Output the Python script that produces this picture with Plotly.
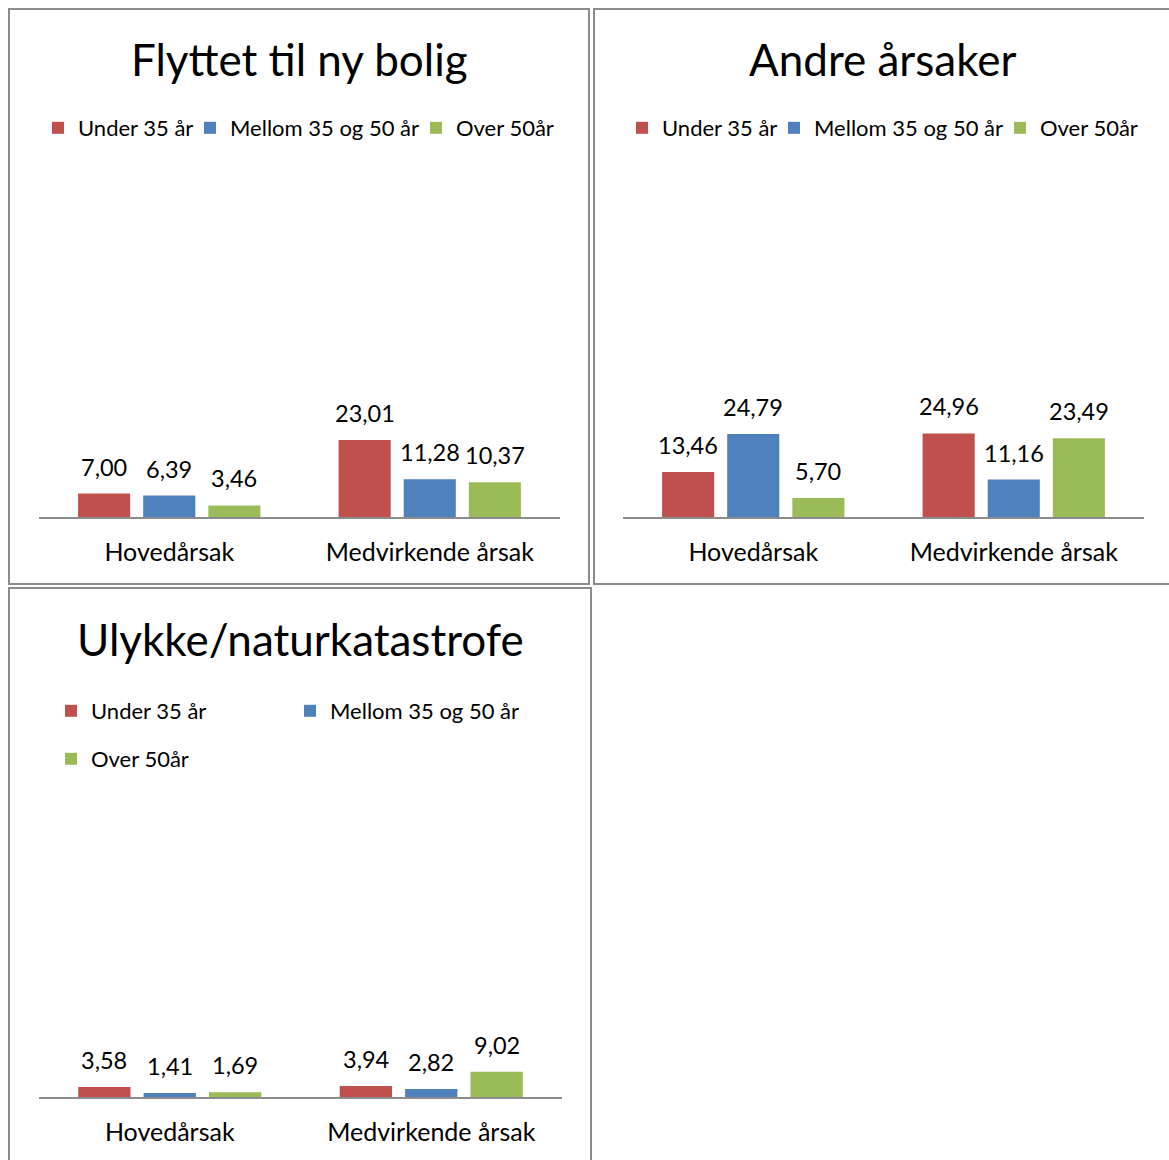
import plotly.graph_objects as go

W, H = 1169, 1160

# ---------------- data ----------------
categories = ["Hovedårsak", "Medvirkende årsak"]
series_names = ["Under 35 år", "Mellom 35 og 50 år", "Over 50år"]
titles = ["Flyttet til ny bolig", "Andre årsaker", "Ulykke/naturkatastrofe"]

flyttet_under35 = [7.00, 23.01]
flyttet_mellom = [6.39, 11.28]
flyttet_over50 = [3.46, 10.37]

andre_under35 = [13.46, 24.96]
andre_mellom = [24.79, 11.16]
andre_over50 = [5.70, 23.49]

ulykke_under35 = [3.58, 3.94]
ulykke_mellom = [1.41, 2.82]
ulykke_over50 = [1.69, 9.02]

y_max = 100

# ---------------- style ----------------
colors = ["#C0504D", "#4F81BD", "#9BBB59"]
FONT = "Lato"
border_color = "#8C8C8C"
axis_color = "#8C8C8C"
BARGAP = 0.25
BARGROUPGAP = 0.2

# pixel geometry of each panel
panels = [
    dict(values=[flyttet_under35, flyttet_mellom, flyttet_over50],
         plot=(39, 560, 182, 517), border=(9, 9, 589, 584), title=(299, 59),
         legend=[(57, 128), (209, 128), (435, 128)]),
    dict(values=[andre_under35, andre_mellom, andre_over50],
         plot=(623, 1144, 182, 517), border=(594, 9, 1172, 584), title=(883, 59),
         legend=[(641, 128), (793, 128), (1019, 128)]),
    dict(values=[ulykke_under35, ulykke_mellom, ulykke_over50],
         plot=(39, 562, 817, 1097), border=(9, 588, 591, 1163), title=(300, 639),
         legend=[(70, 711), (309, 711), (70, 759)]),
]


def px(x):
    return x / W


def py(y):
    return 1 - y / H


fig = go.Figure()
layout = dict(
    width=W, height=H, autosize=False,
    margin=dict(l=0, r=0, t=0, b=0),
    paper_bgcolor="white", plot_bgcolor="white",
    barmode="group", bargap=BARGAP, bargroupgap=BARGROUPGAP,
    font=dict(family=FONT, color="black"),
    separators=",.",
)
shapes = []
annotations = []
legend_idx = 0

for p, pan in enumerate(panels, start=1):
    xa = "x" if p == 1 else f"x{p}"
    ya = "y" if p == 1 else f"y{p}"
    x0, x1, ytop, ybot = pan["plot"]
    layout["xaxis" if p == 1 else f"xaxis{p}"] = dict(
        domain=[px(x0), px(x1)], anchor=ya, type="category",
        showline=True, linecolor=axis_color, linewidth=1.5,
        ticks="", showgrid=False, zeroline=False,
        tickfont=dict(size=25, family=FONT, color="black"),
        ticklabelstandoff=12, fixedrange=True,
    )
    layout["yaxis" if p == 1 else f"yaxis{p}"] = dict(
        domain=[py(ybot), py(ytop)], anchor=xa, range=[0, y_max],
        visible=False, showgrid=False, zeroline=False, fixedrange=True,
    )
    slot = (x1 - x0) / len(categories) * (1 - BARGAP) / len(series_names)
    for s, (name, vals, col) in enumerate(zip(series_names, pan["values"], colors)):
        legend_idx += 1
        lname = "legend" if legend_idx == 1 else f"legend{legend_idx}"
        fig.add_trace(go.Bar(
            x=categories, y=vals, name=name, marker=dict(color=col, line=dict(width=0)),
            xaxis=xa, yaxis=ya, legend=lname, showlegend=True,
        ))
        lx, ly = pan["legend"][s]
        layout[lname] = dict(
            x=px(lx - 19), y=py(ly), xanchor="left", yanchor="middle",
            orientation="h", bgcolor="rgba(0,0,0,0)", borderwidth=0,
            font=dict(size=22, family=FONT, color="black"),
            itemclick=False, itemdoubleclick=False,
        )
        for c, v in enumerate(vals):
            annotations.append(dict(
                x=categories[c], y=v, xref=xa, yref=ya,
                text=f"{v:.2f}".replace(".", ","), showarrow=False,
                xanchor="center", yanchor="bottom",
                xshift=(s - 1) * slot, yshift=11,
                font=dict(size=23.5, family=FONT, color="black"),
            ))
    # title
    tx, ty = pan["title"]
    annotations.append(dict(
        x=px(tx), y=py(ty), xref="paper", yref="paper", text=titles[p - 1],
        showarrow=False, xanchor="center", yanchor="middle",
        font=dict(size=44, family=FONT, color="black"),
    ))
    bx0, by0, bx1, by1 = pan["border"]
    shapes.append(dict(
        type="rect", xref="paper", yref="paper",
        x0=px(bx0), x1=px(bx1), y0=py(by1), y1=py(by0),
        line=dict(color=border_color, width=2), fillcolor="rgba(0,0,0,0)", layer="below",
    ))

layout["shapes"] = shapes
layout["annotations"] = annotations
fig.update_layout(**layout)

fig.write_html("out.html", config={"displayModeBar": False},
               post_script="document.body.style.margin='0';")
